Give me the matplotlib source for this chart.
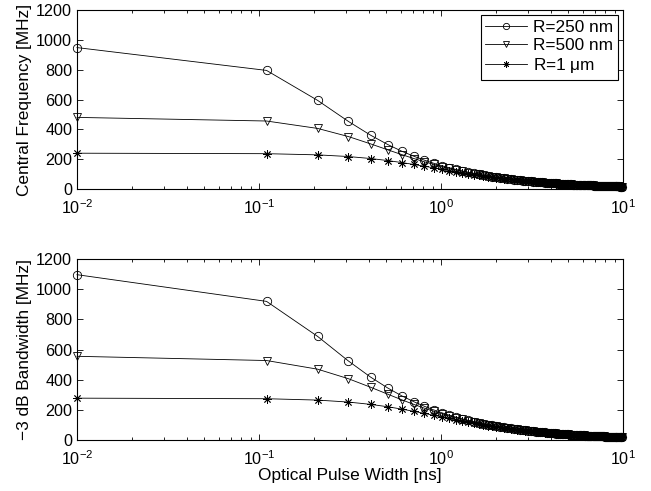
import matplotlib
matplotlib.use("Agg")
import matplotlib.pyplot as plt

plt.rcParams['font.family'] = ['Liberation Sans', 'DejaVu Sans']
plt.rcParams['mathtext.fontset'] = 'custom'
plt.rcParams['mathtext.rm'] = 'Liberation Sans'
plt.rcParams['mathtext.it'] = 'Liberation Sans:italic'

pulse_width = [0.01, 0.11, 0.21, 0.31, 0.41, 0.51, 0.61, 0.71, 0.81, 0.91,
               1.01, 1.11, 1.21, 1.31, 1.41, 1.51, 1.61, 1.71, 1.81, 1.91,
               2.01, 2.11, 2.21, 2.31, 2.41, 2.51, 2.61, 2.71, 2.81, 2.91,
               3.01, 3.11, 3.21, 3.31, 3.41, 3.51, 3.61, 3.71, 3.81, 3.91,
               4.01, 4.11, 4.21, 4.31, 4.41, 4.51, 4.61, 4.71, 4.81, 4.91,
               5.01, 5.11, 5.21, 5.31, 5.41, 5.51, 5.61, 5.71, 5.81, 5.91,
               6.01, 6.11, 6.21, 6.31, 6.41, 6.51, 6.61, 6.71, 6.81, 6.91,
               7.01, 7.11, 7.21, 7.31, 7.41, 7.51, 7.61, 7.71, 7.81, 7.91,
               8.01, 8.11, 8.21, 8.31, 8.41, 8.51, 8.61, 8.71, 8.81, 8.91,
               9.01, 9.11, 9.21, 9.31, 9.41, 9.51, 9.61, 9.71, 9.81, 9.91]

freq_250 = [948, 795, 594, 453, 361, 298, 252.8, 219.3, 193.4, 172.9,
            156.2, 142.5, 130.9, 121.1, 112.7, 105.3, 98.9, 93.2, 88.0, 83.5,
            79.3, 75.6, 72.2, 69.2, 66.3, 63.6, 61.2, 58.9, 56.8, 54.9,
            53.1, 51.3, 49.7, 48.2, 46.8, 45.5, 44.2, 43.0, 41.9, 40.8,
            39.8, 38.9, 38.0, 37.1, 36.3, 35.5, 34.7, 34.0, 33.3, 32.6,
            31.9, 31.3, 30.7, 30.1, 29.6, 29.0, 28.5, 28.0, 27.5, 27.1,
            26.6, 26.2, 25.8, 25.4, 25.0, 24.6, 24.2, 23.8, 23.5, 23.2,
            22.8, 22.5, 22.2, 21.9, 21.6, 21.3, 21.0, 20.8, 20.5, 20.2,
            20.0, 19.7, 19.5, 19.3, 19.0, 18.8, 18.6, 18.4, 18.2, 18.0,
            17.8, 17.6, 17.4, 17.2, 17.0, 16.8, 16.6, 16.5, 16.3, 16.1]

freq_500 = [480, 455.8, 406.1, 351.5, 302.7, 262.6, 230.2, 204.0, 182.6, 165.1,
            150.4, 138.0, 127.4, 118.3, 110.5, 103.5, 97.3, 91.9, 86.9, 82.6,
            78.5, 74.9, 71.6, 68.6, 65.8, 63.1, 60.8, 58.6, 56.5, 54.6,
            52.9, 51.1, 49.5, 48.1, 46.7, 45.4, 44.1, 42.9, 41.8, 40.8,
            39.8, 38.8, 37.9, 37.0, 36.2, 35.4, 34.6, 33.9, 33.2, 32.5,
            31.8, 31.2, 30.6, 30.0, 29.5, 28.9, 28.4, 27.9, 27.4, 27.0,
            26.5, 26.2, 25.8, 25.4, 25.0, 24.6, 24.2, 23.8, 23.5, 23.2,
            22.8, 22.5, 22.2, 21.9, 21.6, 21.3, 21.0, 20.8, 20.5, 20.2,
            20.0, 19.7, 19.5, 19.3, 19.0, 18.8, 18.6, 18.4, 18.2, 18.0,
            17.8, 17.6, 17.4, 17.2, 17.0, 16.8, 16.6, 16.5, 16.3, 16.1]

freq_1um = [240, 236.8, 228.9, 217.6, 204.4, 190.6, 177.1, 164.3, 152.5, 141.8,
            132.2, 123.5, 115.8, 108.8, 102.6, 97.0, 91.8, 87.2, 82.9, 79.1,
            75.6, 72.3, 69.3, 66.6, 64.0, 61.6, 59.4, 57.3, 55.4, 53.6,
            51.9, 50.3, 48.8, 47.4, 46.0, 44.8, 43.6, 42.4, 41.4, 40.3,
            39.4, 38.4, 37.5, 36.7, 35.9, 35.1, 34.3, 33.7, 33.0, 32.3,
            31.6, 31.0, 30.4, 29.8, 29.3, 28.7, 28.2, 27.8, 27.3, 26.9,
            26.4, 26.0, 25.6, 25.2, 24.8, 24.4, 24.0, 23.6, 23.3, 23.0,
            22.7, 22.4, 22.1, 21.8, 21.5, 21.2, 20.9, 20.7, 20.4, 20.1,
            19.9, 19.6, 19.4, 19.2, 18.9, 18.7, 18.5, 18.3, 18.1, 17.9,
            17.7, 17.5, 17.3, 17.1, 16.9, 16.7, 16.5, 16.4, 16.2, 16.0]

bw_250 = [1096, 919.0, 686.7, 523.7, 417.3, 344.5, 292.2, 253.5, 223.6, 199.9,
          180.6, 164.7, 151.3, 140.0, 130.3, 121.7, 114.3, 107.7, 101.7, 96.5,
          91.7, 87.6, 83.7, 80.1, 76.8, 73.6, 70.9, 68.2, 65.8, 63.6,
          61.5, 59.4, 57.6, 55.8, 54.2, 52.7, 51.2, 49.8, 48.6, 47.3,
          46.1, 45.0, 43.9, 42.9, 42.0, 41.0, 40.1, 39.3, 38.5, 37.7,
          36.9, 36.2, 35.5, 34.8, 34.2, 33.5, 32.9, 32.4, 31.8, 31.3,
          30.7, 30.3, 29.8, 29.4, 28.9, 28.4, 28.0, 27.5, 27.2, 26.8,
          26.4, 26.0, 25.7, 25.3, 25.0, 24.6, 24.3, 24.0, 23.7, 23.4,
          23.1, 22.8, 22.5, 22.3, 22.0, 21.7, 21.5, 21.3, 21.0, 20.8,
          20.6, 20.3, 20.1, 19.9, 19.7, 19.4, 19.2, 19.1, 18.8, 18.6]

bw_500 = [554.9, 526.9, 469.5, 406.3, 349.9, 303.6, 266.1, 235.8, 211.1, 190.9,
          173.9, 159.5, 147.3, 136.8, 127.7, 119.6, 112.5, 106.2, 100.5, 95.5,
          90.7, 86.6, 82.8, 79.3, 76.1, 72.9, 70.3, 67.7, 65.3, 63.1,
          61.2, 59.1, 57.2, 55.6, 54.0, 52.5, 51.0, 49.6, 48.3, 47.2,
          46.0, 44.8, 43.7, 42.7, 41.8, 40.8, 39.9, 39.1, 38.3, 37.5,
          36.7, 36.0, 35.3, 34.6, 34.0, 33.3, 32.7, 32.2, 31.6, 31.1,
          30.5, 30.2, 29.7, 29.3, 28.8, 28.3, 27.9, 27.4, 27.1, 26.7,
          26.3, 25.9, 25.6, 25.2, 24.9, 24.5, 24.2, 23.9, 23.6, 23.3,
          23.0, 22.7, 22.4, 22.2, 21.9, 21.6, 21.4, 21.2, 20.9, 20.7,
          20.5, 20.2, 20.0, 19.8, 19.6, 19.3, 19.1, 19.0, 18.7, 18.5]

bw_1um = [277.4, 273.7, 264.6, 251.5, 236.3, 220.3, 204.7, 189.9, 176.3, 163.9,
          152.8, 142.8, 133.9, 125.8, 118.6, 112.1, 106.1, 100.8, 95.8, 91.4,
          87.4, 83.6, 80.1, 77.0, 74.0, 71.2, 68.7, 66.2, 64.0, 62.0,
          60.0, 58.1, 56.4, 54.8, 53.2, 51.8, 50.4, 49.0, 47.9, 46.6,
          45.5, 44.4, 43.4, 42.4, 41.5, 40.6, 39.7, 39.0, 38.1, 37.3,
          36.5, 35.8, 35.1, 34.4, 33.9, 33.2, 32.6, 32.1, 31.6, 31.1,
          30.5, 30.1, 29.6, 29.1, 28.7, 28.2, 27.7, 27.3, 26.9, 26.6,
          26.2, 25.9, 25.5, 25.2, 24.9, 24.5, 24.2, 23.9, 23.6, 23.2,
          23.0, 22.7, 22.4, 22.2, 21.8, 21.6, 21.4, 21.2, 20.9, 20.7,
          20.5, 20.2, 20.0, 19.8, 19.5, 19.3, 19.1, 19.0, 18.7, 18.5]

labels = ['R=250 nm', 'R=500 nm', r'R=1 $\mathrm{\mu}$m']
markers = ['o', 'v', (8, 2, 0)]
y_ticks = [0, 200, 400, 600, 800, 1000, 1200]

fig = plt.figure(figsize=(6.51, 4.91), dpi=100)
ax1 = fig.add_axes([77/651, 1 - 189/491, 546/651, 179/491])
ax2 = fig.add_axes([77/651, 1 - 440/491, 546/651, 181/491])

TICK_FS = 11.6
LABEL_FS = 12.4

def style(ax, ylabel):
    ax.set_xscale('log')
    ax.set_xlim(0.01, 10)
    ax.set_ylim(0, 1200)
    ax.set_yticks(y_ticks)
    ax.tick_params(which='both', direction='in', top=True, right=True,
                   labelsize=TICK_FS, width=0.6)
    ax.tick_params(which='major', length=4)
    ax.tick_params(which='minor', length=2.5)
    ax.tick_params(axis='y', which='major', pad=3.5)
    ax.tick_params(axis='x', which='major', pad=7)
    for s in ax.spines.values():
        s.set_linewidth(0.8)
    ax.set_ylabel(ylabel, fontsize=LABEL_FS, labelpad=3)

series_top = [freq_250, freq_500, freq_1um]
series_bot = [bw_250, bw_500, bw_1um]

for ys, m, lab in zip(series_top, markers, labels):
    ax1.plot(pulse_width, ys, color='black', lw=0.6, marker=m, ms=6,
             mfc='none', mec='black', mew=0.6, label=lab, clip_on=False)
for ys, m in zip(series_bot, markers):
    ax2.plot(pulse_width, ys, color='black', lw=0.6, marker=m, ms=6,
             mfc='none', mec='black', mew=0.6, clip_on=False)

style(ax1, 'Central Frequency [MHz]')
style(ax2, '\u22123 dB Bandwidth [MHz]')
ax2.set_xlabel('Optical Pulse Width [ns]', fontsize=LABEL_FS, labelpad=0)

leg = ax1.legend(loc='upper right', fontsize=LABEL_FS, frameon=True, fancybox=False,
                 edgecolor='black', framealpha=1, borderpad=0.25,
                 labelspacing=0.2, handlelength=2.4, handletextpad=0.4,
                 borderaxespad=0.3, markerscale=0.75)
leg.get_frame().set_linewidth(0.8)

fig.savefig('out.png', dpi=100)
